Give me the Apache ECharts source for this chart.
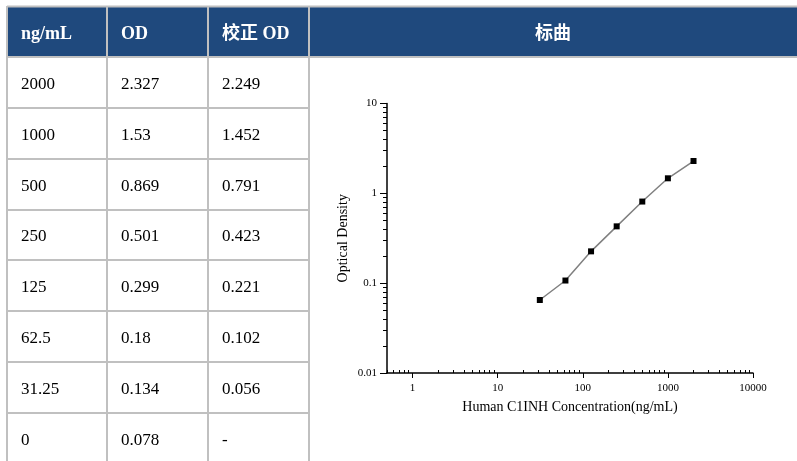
<!DOCTYPE html>
<html><head><meta charset="utf-8">
<script src="https://cdn.jsdelivr.net/npm/echarts@6/dist/echarts.min.js"></script>
<style>html,body{margin:0;padding:0;background:#fff}#c{width:797px;height:461px}</style>
</head><body><div id="c"></div>
<script>
// ---- data ----
const headers = ['ng/mL', 'OD', '校正 OD', '标曲'];
const concentrations = ['2000', '1000', '500', '250', '125', '62.5', '31.25', '0'];
const odValues = ['2.327', '1.53', '0.869', '0.501', '0.299', '0.18', '0.134', '0.078'];
const correctedOd = ['2.249', '1.452', '0.791', '0.423', '0.221', '0.102', '0.056', '-'];
const curveX = [31.25, 62.5, 125, 250, 500, 1000, 2000];
const curveY = [0.065, 0.107, 0.226, 0.429, 0.81, 1.47, 2.29];
const xTickLabels = [1, 10, 100, 1000, 10000];
const yTickLabels = [0.01, 0.1, 1, 10];
const xAxisTitle = 'Human C1INH Concentration(ng/mL)';
const yAxisTitle = 'Optical Density';

// ---- layout ----
const colX = [7, 107, 208, 309, 797];
const rowY = [7, 57, 108, 159, 210, 260, 311, 362, 413, 464];
const serif = "'Liberation Serif','Times New Roman','Noto Sans CJK SC',serif";
const border = '#c0c0c0';
const headFill = '#1f497d';

function minorSet(decades) {
  const out = [];
  decades.forEach(d => { for (let k = 2; k <= 9; k++) out.push(+(k * d).toPrecision(3)); });
  return out;
}
const xMinor = minorSet([0.1, 1, 10, 100, 1000]).filter(v => v >= 0.5);
const yMinor = minorSet([0.01, 0.1, 1]);

const graphic = [];
graphic.push({ type: 'rect', z: 0, shape: { x: colX[0], y: rowY[0], width: 797 - colX[0], height: rowY[1] - rowY[0] }, style: { fill: headFill } });
const tableCols = [concentrations, odValues, correctedOd];
for (let j = 0; j < 3; j++) {
  graphic.push({ type: 'text', z: 5, x: colX[j] + 14, y: (rowY[0] + rowY[1]) / 2 + 2,
    style: { text: headers[j], fill: '#fff', font: 'bold 18px ' + serif, verticalAlign: 'middle', align: 'left' } });
}
graphic.push({ type: 'text', z: 5, x: (colX[3] + colX[4]) / 2, y: (rowY[0] + rowY[1]) / 2 + 2,
  style: { text: headers[3], fill: '#fff', font: 'bold 18px ' + serif, verticalAlign: 'middle', align: 'center' } });
for (let i = 0; i < concentrations.length; i++) {
  for (let j = 0; j < 3; j++) {
    graphic.push({ type: 'text', z: 5, x: colX[j] + 14, y: (rowY[i + 1] + rowY[i + 2]) / 2 + 2,
      style: { text: tableCols[j][i], fill: '#000', font: '17px ' + serif, verticalAlign: 'middle', align: 'left' } });
  }
}
graphic.push({ type: 'line', z: 4, shape: { x1: colX[0], y1: rowY[0] - 0.5, x2: 797, y2: rowY[0] - 0.5 }, style: { stroke: border, lineWidth: 2 } });
graphic.push({ type: 'line', z: 4, shape: { x1: colX[0], y1: rowY[1], x2: 797, y2: rowY[1] }, style: { stroke: border, lineWidth: 2 } });
for (let i = 2; i < rowY.length - 1; i++) {
  graphic.push({ type: 'line', z: 4, shape: { x1: colX[0], y1: rowY[i], x2: colX[3], y2: rowY[i] }, style: { stroke: border, lineWidth: 2 } });
}
for (let j = 0; j < 4; j++) {
  graphic.push({ type: 'line', z: 4, shape: { x1: colX[j], y1: rowY[0] - 1, x2: colX[j], y2: 461 }, style: { stroke: border, lineWidth: 2 } });
}

const axisFont = { color: '#000', fontFamily: serif, fontSize: 11 };
const chart = echarts.init(document.getElementById('c'), null, { renderer: 'canvas' });
chart.setOption({
  animation: false,
  backgroundColor: '#fff',
  graphic: graphic,
  grid: { left: 387, right: 44, top: 103.5, bottom: 88, containLabel: false },
  xAxis: [
    { type: 'log', logBase: 10, min: 0.5, max: 10000, position: 'bottom',
      axisLine: { lineStyle: { color: '#000', width: 1.5 } },
      axisTick: { length: 5, lineStyle: { color: '#000', width: 1 }, customValues: xTickLabels },
      axisLabel: Object.assign({ margin: 10, customValues: xTickLabels, formatter: v => String(v) }, axisFont),
      splitLine: { show: false },
      name: xAxisTitle, nameLocation: 'middle', nameGap: 27,
      nameTextStyle: { color: '#000', fontFamily: serif, fontSize: 14 } },
    { type: 'log', logBase: 10, min: 0.5, max: 10000, position: 'bottom',
      axisLine: { show: false },
      axisTick: { inside: true, length: 3, lineStyle: { color: '#000', width: 1 }, customValues: xMinor },
      axisLabel: { show: false }, splitLine: { show: false } }
  ],
  yAxis: [
    { type: 'log', logBase: 10, min: 0.01, max: 10, position: 'left',
      axisLine: { lineStyle: { color: '#000', width: 1.5 } },
      axisTick: { length: 7, lineStyle: { color: '#000', width: 1 }, customValues: yTickLabels },
      axisLabel: Object.assign({ margin: 10, customValues: yTickLabels, formatter: v => String(v) }, axisFont),
      splitLine: { show: false },
      name: yAxisTitle, nameLocation: 'middle', nameGap: 37,
      nameTextStyle: { color: '#000', fontFamily: serif, fontSize: 14 } },
    { type: 'log', logBase: 10, min: 0.01, max: 10, position: 'left',
      axisLine: { show: false },
      axisTick: { length: 4, lineStyle: { color: '#000', width: 1 }, customValues: yMinor },
      axisLabel: { show: false }, splitLine: { show: false } }
  ],
  series: [{
    type: 'line', xAxisIndex: 0, yAxisIndex: 0,
    data: curveX.map((x, i) => [x, curveY[i]]),
    symbol: 'rect', symbolSize: 6,
    itemStyle: { color: '#000' },
    lineStyle: { color: '#808080', width: 1.5 }
  }]
});
</script></body></html>
